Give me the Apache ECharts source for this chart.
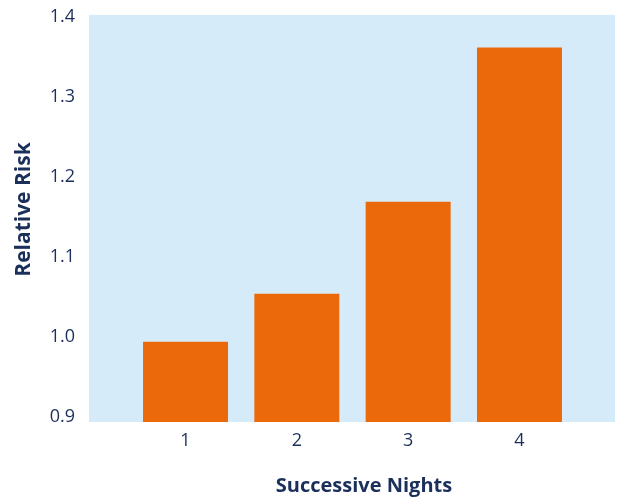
<!DOCTYPE html>
<html>
<head>
<meta charset="utf-8">
<script src="https://cdn.jsdelivr.net/npm/echarts@6/dist/echarts.min.js"></script>
<style>
  html, body { margin: 0; padding: 0; background: #ffffff; }
  #chart { width: 622px; height: 497px; }
</style>
</head>
<body>
<div id="chart"></div>
<script>
// Relative risk by number of successive nights
const nights = [1, 2, 3, 4];
const relativeRisk = [0.994, 1.054, 1.169, 1.362];
const yTicks = [0.9, 1.0, 1.1, 1.2, 1.3, 1.4];

const ink = '#1b2f5b';
const chart = echarts.init(document.getElementById('chart'));

chart.setOption({
  animation: false,
  grid: {
    left: 89, right: 7, top: 15, bottom: 75,
    outerBoundsMode: 'none',
    containLabel: false,
    show: true, backgroundColor: '#d5ebf9', borderWidth: 0
  },
  xAxis: {
    type: 'value',
    min: 0.133, max: 4.858,
    name: 'Successive Nights',
    nameLocation: 'middle',
    nameGap: 54,
    nameTextStyle: {
      color: ink, fontFamily: 'Open Sans', fontWeight: 'bold', fontSize: 20,
      padding: [0, 0, 0, 24]
    },
    axisLine: { show: false },
    axisTick: { show: false },
    splitLine: { show: false },
    axisLabel: {
      customValues: nights,
      color: ink, fontFamily: 'Open Sans', fontSize: 18, margin: 10
    }
  },
  yAxis: {
    type: 'value',
    min: 0.89375, max: 1.4025,
    name: 'Relative Risk',
    nameLocation: 'middle',
    nameGap: 54,
    nameTextStyle: {
      color: ink, fontFamily: 'Open Sans', fontWeight: 'bold', fontSize: 21,
      padding: [0, 0, 0, 18]
    },
    axisLine: { show: false },
    axisTick: { show: false },
    splitLine: { show: false },
    axisLabel: {
      customValues: yTicks,
      formatter: v => v.toFixed(1),
      color: ink, fontFamily: 'Open Sans', fontSize: 18, margin: 14
    }
  },
  series: [{
    type: 'bar',
    data: nights.map((n, i) => [n, relativeRisk[i]]),
    barWidth: 85,
    itemStyle: { color: '#eb690b' }
  }]
});
</script>
</body>
</html>
